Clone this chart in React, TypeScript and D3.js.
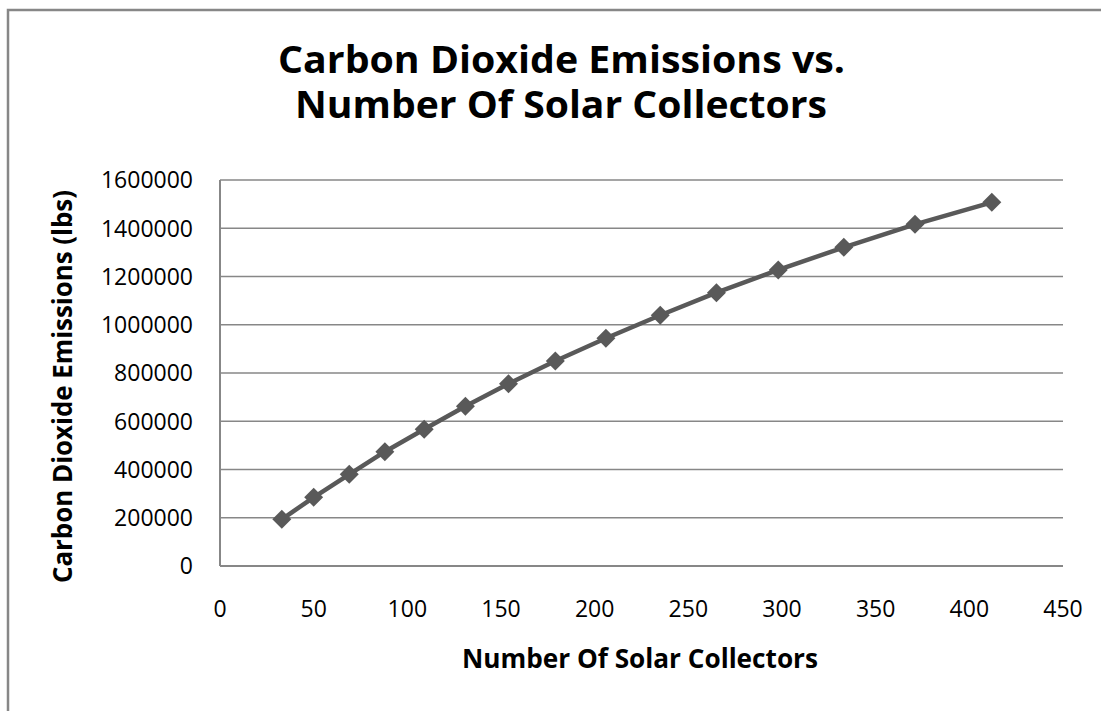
import * as d3 from "d3";
import React from "react";

const width = 1101;
const height = 711;
const margin = { top: 180, right: 38, bottom: 145, left: 220 };

// number of solar collectors
const collectors = [33, 50, 69, 88, 109, 131, 154, 179, 206, 235, 265, 298, 333, 371, 412];
// carbon dioxide emissions (lbs)
const emissions = [
  193600, 284800, 380100, 473800, 566600, 662000, 755700, 849700, 943800,
  1039200, 1132900, 1227000, 1321000, 1416400, 1507600,
];
const xTicks = [0, 50, 100, 150, 200, 250, 300, 350, 400, 450];
const yTicks = [0, 200000, 400000, 600000, 800000, 1000000, 1200000, 1400000, 1600000];
const titleLines = ["Carbon Dioxide Emissions vs.", "Number Of Solar Collectors"];

const font = "'Open Sans', 'Noto Sans', sans-serif";
const gray = "#878787";
const seriesColor = "#595959";

const App = () => {
  const data = collectors.map((c, i) => ({ x: c, y: emissions[i] }));

  const xScale = d3
    .scaleLinear()
    .domain([0, 450])
    .range([margin.left, width - margin.right]);

  const yScale = d3
    .scaleLinear()
    .domain([0, 1600000])
    .range([height - margin.bottom, margin.top]);

  const line = d3
    .line<{ x: number; y: number }>()
    .x((d) => xScale(d.x))
    .y((d) => yScale(d.y));

  // Excel style diamond: a square turned 45 degrees
  const marker = d3.symbol().type(d3.symbolSquare).size(180)();

  const x0 = xScale(0);
  const x1 = xScale(450);
  const y0 = yScale(0);
  const y1 = yScale(1600000);

  return (
    <svg
      width={width}
      height={height}
      style={{ position: "absolute", left: 0, top: 0, background: "#fff" }}
    >
      {/* chart frame */}
      <rect x={8} y={10} width={width + 20} height={height + 20} fill="#fff" stroke={gray} strokeWidth={2.5} />

      {/* title */}
      <g fontFamily={font} fontWeight="bold" fontSize={38} fill="#000" textAnchor="middle">
        <text x={561.5} y={73} textLength={567} lengthAdjust="spacingAndGlyphs">
          {titleLines[0]}
        </text>
        <text x={561} y={118} textLength={532} lengthAdjust="spacingAndGlyphs">
          {titleLines[1]}
        </text>
      </g>

      {/* gridlines */}
      {yTicks.slice(1).map((t) => (
        <line key={t} x1={x0} x2={x1} y1={yScale(t)} y2={yScale(t)} stroke={gray} strokeWidth={1.5} />
      ))}

      {/* axes */}
      <line x1={x0} x2={x0} y1={y1} y2={y0} stroke={gray} strokeWidth={2} />
      <line x1={x0} x2={x1} y1={y0} y2={y0} stroke={gray} strokeWidth={2} />

      {/* y tick labels */}
      <g fontFamily={font} fontSize={23} fill="#000" textAnchor="end">
        {yTicks.map((t) => (
          <text key={t} x={193} y={yScale(t)} dy="0.36em">
            {t}
          </text>
        ))}
      </g>

      {/* x tick labels */}
      <g fontFamily={font} fontSize={23} fill="#000" textAnchor="middle">
        {xTicks.map((t) => (
          <text key={t} x={xScale(t)} y={617}>
            {t}
          </text>
        ))}
      </g>

      {/* axis titles */}
      <text
        x={640}
        y={668}
        fontFamily={font}
        fontWeight="bold"
        fontSize={26}
        textAnchor="middle"
        textLength={356}
        lengthAdjust="spacingAndGlyphs"
      >
        Number Of Solar Collectors
      </text>
      <text
        transform={`translate(72, 386.5) rotate(-90)`}
        fontFamily={font}
        fontWeight="bold"
        fontSize={26}
        textAnchor="middle"
        textLength={393}
        lengthAdjust="spacingAndGlyphs"
      >
        Carbon Dioxide Emissions (lbs)
      </text>

      {/* series */}
      <path d={line(data) || ""} fill="none" stroke={seriesColor} strokeWidth={4.5} strokeLinejoin="round" />
      {data.map((d, i) => (
        <path
          key={i}
          d={marker || ""}
          transform={`translate(${xScale(d.x)}, ${yScale(d.y)}) rotate(45)`}
          fill={seriesColor}
        />
      ))}
    </svg>
  );
};

export default App;
